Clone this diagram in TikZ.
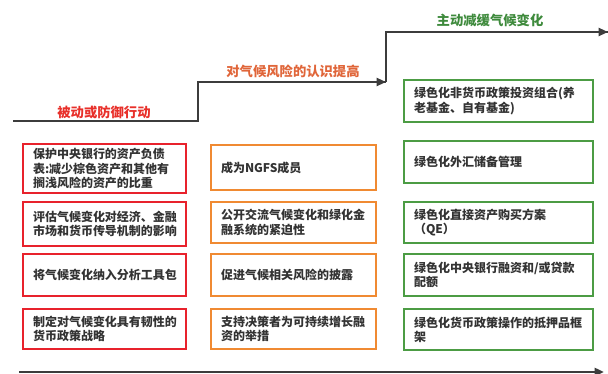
\documentclass[tikz,border=0pt]{standalone}
\usepackage{fontspec}
\setmainfont{Noto Sans CJK SC}
\usetikzlibrary{arrows.meta}
\definecolor{bred}{HTML}{E8222C}
\definecolor{borange}{HTML}{F08A32}
\definecolor{bgreen}{HTML}{4C9C44}
\definecolor{lred}{HTML}{E8302A}
\definecolor{lorange}{HTML}{E0663A}
\definecolor{lgreen}{HTML}{3E8A3C}
\definecolor{stair}{HTML}{3C3C3C}
\definecolor{btext}{HTML}{333333}
\tikzset{
  x=0.75pt, y=-0.75pt,
  bx/.style n args={3}{draw=#1, line width=1.5pt, text=btext,
    minimum width=#2*0.75pt, minimum height=#3*0.75pt,
    text width=(#2-20)*0.75pt, inner xsep=10*0.75pt, inner ysep=0pt,
    align=left, font=\fontsize{9pt}{10.6pt}\selectfont\bfseries},
  lbl/.style={font=\fontsize{10pt}{11pt}\selectfont\bfseries, inner sep=0pt},
  stairline/.style={draw=stair, line width=1.6pt},
  tip/.style={-{Triangle[length=7pt,width=6pt]}},
}
\begin{document}
\begin{tikzpicture}
\useasboundingbox (0,0) rectangle (608,374);
% staircase
\coordinate (s0) at (13,121);
\coordinate (s1) at (198,121);
\coordinate (s2) at (198,82);
\coordinate (s3) at (386,82);
\coordinate (s4) at (386,32);
\coordinate (s5) at (608,32);
\draw[stairline, line join=miter] (s0) -- (s1) -- (s2) -- (s3);
\draw[stairline, tip] (s2) -- (s3);
\draw[stairline, line join=miter] (s3) -- (s4) -- (s5);
\draw[stairline, tip] (s4) -- (s5);
% labels
\node[lbl, text=lred] (l1) at (104,112) {被动或防御行动};
\node[lbl, text=lorange] (l2) at (293,71) {对气候风险的认识提高};
\node[lbl, text=lgreen] (l3) at (490,20) {主动减缓气候变化};
% red column
\node[bx={bred}{163}{49}] (r1) at (104.5,168.5) {保护中央银行的资产负债\\表:减少棕色资产和其他有\\搁浅风险的资产的比重};
\node[bx={bred}{163}{44}] (r2) at (104.5,224) {评估气候变化对经济、金融\\市场和货币传导机制的影响};
\node[bx={bred}{163}{42}] (r3) at (104.5,275) {将气候变化纳入分析工具包};
\node[bx={bred}{163}{40}] (r4) at (104.5,329) {制定对气候变化具有韧性的\\货币政策战略};
% orange column
\node[bx={borange}{165}{45}] (o1) at (293.5,167.5) {成为NGFS成员};
\node[bx={borange}{165}{41}] (o2) at (293.5,222.5) {公开交流气候变化和绿化金\\融系统的紧迫性};
\node[bx={borange}{165}{42}] (o3) at (293.5,275) {促进气候相关风险的披露};
\node[bx={borange}{165}{40}] (o4) at (293.5,329) {支持决策者为可持续增长融\\资的举措};
% green column
\node[bx={bgreen}{189}{42}] (g0) at (498.5,101) {绿色化非货币政策投资组合(养\\老基金、自有基金)};
\node[bx={bgreen}{189}{42}] (g1) at (498.5,162) {绿色化外汇储备管理};
\node[bx={bgreen}{189}{41}] (g2) at (498.5,222.5) {绿色化直接资产购买方案\\（QE）};
\node[bx={bgreen}{189}{42}] (g3) at (498.5,275) {绿色化中央银行融资和/或贷款\\配额};
\node[bx={bgreen}{189}{41}] (g4) at (498.5,329.5) {绿色化货币政策操作的抵押品框\\架};
% bottom axis
\coordinate (a0) at (19,372);
\coordinate (a1) at (604,372);
\draw[stairline, line width=1.8pt, tip] (a0) -- (a1);
\end{tikzpicture}
\end{document}
